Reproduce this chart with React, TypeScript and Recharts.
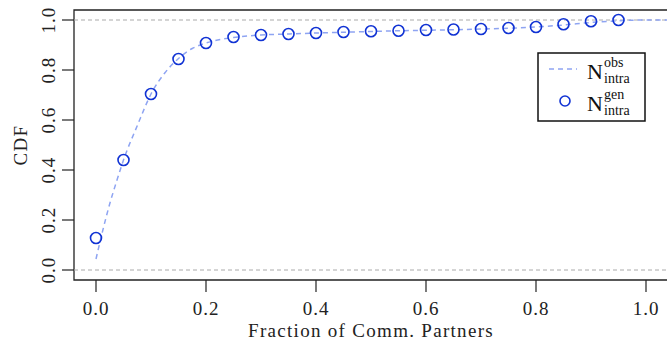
import { ComposedChart, Line, XAxis, YAxis, ReferenceLine, ReferenceArea } from 'recharts';

// observed CDF (dashed curve)
const obsX = [0, 0.0125, 0.025, 0.0375, 0.05, 0.075, 0.1, 0.125, 0.15, 0.175, 0.2, 0.25, 0.3, 0.35, 0.4, 0.45, 0.5, 0.55, 0.6, 0.65, 0.7, 0.75, 0.8, 0.85, 0.9, 0.95, 1.0, 1.04];
const obsY = [0.044, 0.16, 0.265, 0.355, 0.44, 0.577, 0.704, 0.788, 0.846, 0.886, 0.908, 0.93, 0.94, 0.944, 0.948, 0.951, 0.954, 0.957, 0.959, 0.961, 0.964, 0.967, 0.972, 0.98, 0.99, 0.997, 1.0, 1.0];

// generated CDF (circles)
const genX = [0, 0.05, 0.1, 0.15, 0.2, 0.25, 0.3, 0.35, 0.4, 0.45, 0.5, 0.55, 0.6, 0.65, 0.7, 0.75, 0.8, 0.85, 0.9, 0.95];
const genY = [0.128, 0.44, 0.704, 0.844, 0.908, 0.932, 0.94, 0.944, 0.948, 0.952, 0.955, 0.957, 0.96, 0.962, 0.964, 0.968, 0.972, 0.983, 0.995, 1.0];

const ticks = [0, 0.2, 0.4, 0.6, 0.8, 1.0];

const obsData = obsX.map((x, i) => ({ x, y: obsY[i] }));
const genData = genX.map((x, i) => ({ x, y: genY[i] }));

const FONT = '"Liberation Serif", "DejaVu Serif", serif';
const LINE_COLOR = '#8ea4f2';
const DOT_COLOR = '#1133d4';

function YTick({ x, y, payload }: any) {
  const cx = x - 12;
  return (
    <text x={cx} y={y} transform={`rotate(-90, ${cx}, ${y})`} textAnchor="middle" dominantBaseline="central"
      fontFamily={FONT} fontSize={19} letterSpacing={1} fill="#222">
      {payload.value.toFixed(1)}
    </text>
  );
}

function XTick({ x, y, payload }: any) {
  return (
    <text x={x} y={y + 14} textAnchor="middle" dominantBaseline="central" fontFamily={FONT} fontSize={19} letterSpacing={1} fill="#222">
      {payload.value.toFixed(1)}
    </text>
  );
}

function YTitle({ viewBox }: any) {
  const cx = 20;
  const cy = viewBox.y + viewBox.height / 2;
  return (
    <text x={cx} y={cy} transform={`rotate(-90, ${cx}, ${cy})`} textAnchor="middle" dominantBaseline="central"
      fontFamily={FONT} fontSize={19} letterSpacing={1.3} fill="#222">
      CDF
    </text>
  );
}

function LegendBox() {
  return (
    <svg width={110} height={71} style={{ position: 'absolute', left: 537, top: 52, fontFamily: FONT }}>
      <rect x={1} y={1} width={107} height={68} fill="#fff" stroke="#111" strokeWidth={1.5} />
      <line x1={12} y1={17} x2={40} y2={17} stroke={LINE_COLOR} strokeWidth={1.5} strokeDasharray="5 4" />
      <text x={50} y={27} fontSize={22} fill="#111">N</text>
      <text x={67} y={15} fontSize={14} fill="#111">obs</text>
      <text x={67} y={31} fontSize={14} fill="#111">intra</text>
      <circle cx={28} cy={49} r={5} fill="none" stroke={DOT_COLOR} strokeWidth={1.6} />
      <text x={50} y={59} fontSize={22} fill="#111">N</text>
      <text x={67} y={47} fontSize={14} fill="#111">gen</text>
      <text x={67} y={63} fontSize={14} fill="#111">intra</text>
    </svg>
  );
}

export default function App() {
  return (
    <div style={{ position: 'absolute', left: 0, top: 0, width: 667, height: 343, overflow: 'hidden', background: '#fff' }}>
      <ComposedChart width={670} height={343} margin={{ top: 10, right: 2, bottom: 0, left: 0 }}>
        <XAxis type="number" dataKey="x" domain={[-0.04, 1.04]} ticks={ticks} allowDataOverflow
          tickSize={12} axisLine={false} tickLine={{ stroke: '#222', strokeWidth: 1.2 }} tick={<XTick />} height={63}
          label={{ value: 'Fraction of Comm. Partners', position: 'insideBottom', offset: 6, fontFamily: FONT, fontSize: 19, letterSpacing: 1.3, fill: '#222' }} />
        <YAxis type="number" dataKey="y" domain={[-0.04, 1.04]} ticks={ticks} allowDataOverflow
          tickSize={12} axisLine={false} tickLine={{ stroke: '#222', strokeWidth: 1.2 }} tick={<YTick />} width={74}
          label={<YTitle />} />
        <ReferenceArea x1={-0.04} x2={1.04} y1={-0.04} y2={1.04} fill="none" stroke="#222" strokeWidth={1.3} ifOverflow="visible" />
        <ReferenceLine y={0} stroke="#aaa" strokeDasharray="4 3" strokeWidth={1} />
        <ReferenceLine y={1} stroke="#aaa" strokeDasharray="4 3" strokeWidth={1} />
        <Line data={obsData} dataKey="y" type="monotone" stroke={LINE_COLOR} strokeWidth={1.5} strokeDasharray="5 4"
          dot={false} isAnimationActive={false} />
        <Line data={genData} dataKey="y" stroke="none" isAnimationActive={false}
          dot={{ r: 5.5, fill: 'none', stroke: DOT_COLOR, strokeWidth: 1.6 }} activeDot={false} />
      </ComposedChart>
      <LegendBox />
    </div>
  );
}
